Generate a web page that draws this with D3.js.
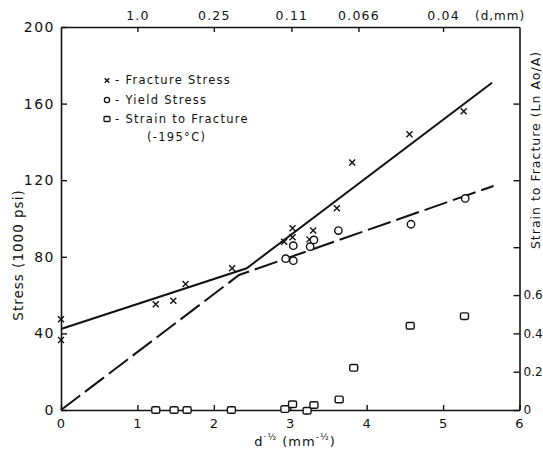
<!DOCTYPE html>
<html><head><meta charset="utf-8">
<script src="https://cdn.jsdelivr.net/npm/d3@7"></script>
<style>
html,body{margin:0;padding:0;background:#fff;}
svg text{font-family:"DejaVu Sans",sans-serif;fill:#111;}
</style></head>
<body><svg id="c" width="543" height="456"></svg>
<script>
// ---- data ----
const fractureX = [0, 0, 1.24, 1.47, 1.63, 2.24, 2.92, 3.03, 3.03, 3.25, 3.30, 3.61, 3.81, 4.56, 5.27];
const fractureY = [47.4, 36.6, 55.2, 57.0, 65.8, 74.0, 87.9, 90.2, 94.9, 89.1, 93.7, 105.4, 129.2, 144, 156];
const yieldX = [2.94, 3.04, 3.04, 3.26, 3.31, 3.63, 4.58, 5.29];
const yieldY = [79.0, 78.0, 85.8, 85.3, 88.8, 93.7, 97.0, 110.5];
const strainX = [1.24, 1.48, 1.65, 2.23, 2.93, 3.03, 3.22, 3.31, 3.64, 3.83, 4.57, 5.28];
const strainY = [0, 0, 0, 0, 0.005, 0.03, -0.004, 0.026, 0.055, 0.22, 0.44, 0.49];
const fractureLineX = [0, 2.43, 5.64];
const fractureLineY = [42.3, 74.0, 170.9];
const yieldLineX = [0, 2.33, 5.66];
const yieldLineY = [0, 70.5, 117.0];
const bottomTicks = [0, 1, 2, 3, 4, 5, 6];
const leftTicks = [0, 40, 80, 120, 160, 200];
const rightTicks = [0, 0.2, 0.4, 0.6, 0.85, 1.2, 1.6];
const rightLabels = ["0", "0.2", "0.4", "0.6", "", "", ""];
const topD = [1.0, 0.25, 0.11, 0.066, 0.04];
const topLabels = ["1.0", "0.25", "0.11", "0.066", "0.04"];
const legendLabels = ["- Fracture Stress", "- Yield Stress", "- Strain to Fracture"];

// ---- layout ----
const L = 61, R = 519.5, T = 27, B = 410;
const svg = d3.select("#c");
const x = d3.scaleLinear().domain([0, 6]).range([L, R]);
const y = d3.scaleLinear().domain([0, 200]).range([B, T]);
const ys = d3.scaleLinear().domain([0, 2]).range([B, T]);

function styleAxis(size, ls) {
  return g => {
    g.selectAll("path.domain").attr("stroke", "#111").attr("stroke-width", 1.6);
    g.selectAll(".tick line").attr("stroke", "#111").attr("stroke-width", 1.4);
    g.selectAll("text").style("font-size", size).style("letter-spacing", ls).attr("fill", "#111");
  };
}

svg.append("g").attr("transform", `translate(0,${B})`)
  .call(d3.axisBottom(x).tickValues(bottomTicks).tickSizeInner(-5).tickSizeOuter(0).tickPadding(9).tickFormat(d3.format("d")))
  .call(styleAxis("13px", "1px"));
svg.append("g").attr("transform", `translate(${L},0)`)
  .call(d3.axisLeft(y).tickValues(leftTicks).tickSizeInner(-6).tickSizeOuter(0).tickPadding(6))
  .call(styleAxis("14px", "1.5px"));
svg.append("g").attr("transform", `translate(${R},0)`)
  .call(d3.axisRight(ys).tickValues(rightTicks).tickSizeInner(-6).tickSizeOuter(0).tickPadding(4)
    .tickFormat((d, i) => rightLabels[i]))
  .call(styleAxis("12px", "0px"));
svg.append("g").attr("transform", `translate(0,${T})`)
  .call(d3.axisTop(x).tickValues(topD.map(d => 1 / Math.sqrt(d))).tickSizeInner(-5).tickSizeOuter(0).tickPadding(7)
    .tickFormat((d, i) => topLabels[i]))
  .call(styleAxis("12.5px", "1.2px"));

svg.append("text").attr("x", 475).attr("y", T - 7).style("font-size", "12px").style("letter-spacing", "1px").text("(d,mm)");

// axis titles
svg.append("text").attr("transform", `translate(23,255) rotate(-90)`).attr("text-anchor", "middle")
  .style("font-size", "13.5px").style("letter-spacing", "1px").text("Stress (1000 psi)");
svg.append("text").attr("transform", `translate(540,150) rotate(-90)`).attr("text-anchor", "middle")
  .style("font-size", "12.5px").style("letter-spacing", "1px").text("Strain to Fracture (Ln Ao/A)");
const xt = svg.append("text").attr("x", 295).attr("y", 446).attr("text-anchor", "middle")
  .style("font-size", "13px").style("letter-spacing", "1px");
xt.append("tspan").text("d");
xt.append("tspan").attr("dy", -6).style("font-size", "9px").text("·½");
xt.append("tspan").attr("dy", 6).text(" (mm");
xt.append("tspan").attr("dy", -6).style("font-size", "9px").text("-½");
xt.append("tspan").attr("dy", 6).text(")");

// lines
const line = d3.line().x(d => x(d[0])).y(d => y(d[1]));
svg.append("path").datum(fractureLineX.map((v, i) => [v, fractureLineY[i]]))
  .attr("d", line).attr("fill", "none").attr("stroke", "#111").attr("stroke-width", 2);
svg.append("path").datum(yieldLineX.map((v, i) => [v, yieldLineY[i]]))
  .attr("d", line).attr("fill", "none").attr("stroke", "#111").attr("stroke-width", 2)
  .attr("stroke-dasharray", "24,6");

// markers
function xMark(g, cx, cy, s) {
  g.append("path").attr("d", `M${cx - s},${cy - s}L${cx + s},${cy + s}M${cx - s},${cy + s}L${cx + s},${cy - s}`)
    .attr("stroke", "#111").attr("stroke-width", 1.4).attr("fill", "none");
}
const gm = svg.append("g");
fractureX.forEach((v, i) => xMark(gm, x(v), y(fractureY[i]), 3));
yieldX.forEach((v, i) => gm.append("circle").attr("cx", x(v)).attr("cy", y(yieldY[i])).attr("r", 3.7)
  .attr("fill", "#fff").attr("stroke", "#111").attr("stroke-width", 1.4));
strainX.forEach((v, i) => gm.append("rect").attr("x", x(v) - 4).attr("y", ys(strainY[i]) - 3.3)
  .attr("width", 8).attr("height", 6.6).attr("rx", 1.6)
  .attr("fill", "#fff").attr("stroke", "#111").attr("stroke-width", 1.4));

// legend
const lg = svg.append("g");
const rowsY = [84, 103.5, 122.5];
xMark(lg, 107, rowsY[0] - 3.5, 2.3);
lg.append("circle").attr("cx", 107).attr("cy", rowsY[1] - 3.5).attr("r", 2.6).attr("fill", "none").attr("stroke", "#111").attr("stroke-width", 1.3);
lg.append("rect").attr("x", 104).attr("y", rowsY[2] - 6).attr("width", 6).attr("height", 5).attr("rx", 1).attr("fill", "none").attr("stroke", "#111").attr("stroke-width", 1.3);
legendLabels.forEach((t, i) => lg.append("text").attr("x", 115).attr("y", rowsY[i])
  .style("font-size", "11.5px").style("letter-spacing", "1.3px").text(t));
lg.append("text").attr("x", 147).attr("y", 141).style("font-size", "11.5px").style("letter-spacing", "1.3px").text("(-195°C)");
</script></body></html>
